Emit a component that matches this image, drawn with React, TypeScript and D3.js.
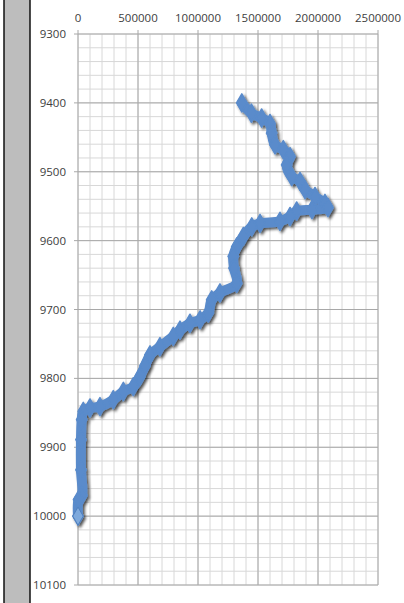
import React from "react";
import * as d3 from "d3";

const xTicks = [0, 500000, 1000000, 1500000, 2000000, 2500000];
const yTicks = [9300, 9400, 9500, 9600, 9700, 9800, 9900, 10000, 10100];

const values = [
  1365000, 1445000, 1530000, 1600000, 1614000, 1642000, 1711000, 1767000, 1739000, 1781000,
  1850000, 1892000, 1975000, 2058000, 2083000, 1950000, 1822000, 1767000, 1683000, 1517000,
  1448000, 1378000, 1323000, 1294000, 1300000, 1323000, 1183000, 1114000, 1086000, 1017000,
  933000, 850000, 794000, 683000, 600000, 558000, 517000, 461000, 378000, 294000,
  183000, 100000, 44000, 31000, 25000, 25000, 33000, 5000, 0,
];
const depths = [
  9400, 9415, 9422, 9430, 9444, 9461, 9468, 9478, 9490, 9507,
  9514, 9526, 9536, 9546, 9552, 9555, 9557, 9565, 9572, 9575,
  9580, 9594, 9609, 9623, 9640, 9662, 9676, 9686, 9705, 9715,
  9720, 9730, 9739, 9754, 9766, 9782, 9797, 9812, 9819, 9831,
  9841, 9843, 9848, 9860, 9889, 9933, 9970, 9976, 10000,
];

const W = 404;
const H = 603;
const left = 78;
const right = 378;
const top = 34;
const bottom = 585;

export default function App() {
  const x = d3.scaleLinear().domain([0, 2500000]).range([left, right]);
  const y = d3.scaleLinear().domain([9300, 10100]).range([top, bottom]);

  const xMinor = d3.range(0, 2500001, 100000);
  const yMinor = d3.range(9300, 10101, 20);

  const pts: [number, number][] = values.map((v, i) => [x(v), y(depths[i])]);
  const line = d3.line().curve(d3.curveCatmullRom.alpha(0.5))(pts) || "";
  const sym = d3.symbol().type(d3.symbolDiamond).size(95)() || "";

  const font = "'Open Sans', 'Liberation Sans', sans-serif";

  return (
    <svg
      width={W}
      height={H}
      style={{ position: "absolute", left: 0, top: 0, background: "#fff" }}
    >
      <defs>
        <filter id="sh" x="-20%" y="-20%" width="140%" height="140%">
          <feGaussianBlur in="SourceAlpha" stdDeviation="1.5" result="b" />
          <feOffset in="b" dx="1.5" dy="2" result="o" />
          <feComponentTransfer in="o" result="s">
            <feFuncA type="linear" slope="0.7" />
          </feComponentTransfer>
          <feMerge>
            <feMergeNode in="s" />
            <feMergeNode in="SourceGraphic" />
          </feMerge>
        </filter>
      </defs>
      <rect x={0} y={0} width={W} height={H} fill="#fff" />
      {/* left gray bar */}
      <rect x={4} y={0} width={26} height={H} fill="#bdbdbd" />
      <line x1={4} x2={4} y1={0} y2={H} stroke="#111" strokeWidth={1.5} />
      <line x1={30} x2={30} y1={0} y2={H} stroke="#111" strokeWidth={1.5} />

      {/* minor grid */}
      {xMinor.map((v) => (
        <line key={"xm" + v} x1={x(v)} x2={x(v)} y1={top} y2={bottom} stroke="#d8d8d8" strokeWidth={1} />
      ))}
      {yMinor.map((v) => (
        <line key={"ym" + v} x1={left} x2={right} y1={y(v)} y2={y(v)} stroke="#d8d8d8" strokeWidth={1} />
      ))}
      {/* major grid */}
      {xTicks.map((v) => (
        <line key={"xM" + v} x1={x(v)} x2={x(v)} y1={top - 4} y2={bottom} stroke="#a8a8a8" strokeWidth={1} />
      ))}
      {yTicks.map((v) => (
        <line key={"yM" + v} x1={left - 4} x2={right} y1={y(v)} y2={y(v)} stroke="#a8a8a8" strokeWidth={1} />
      ))}

      {/* labels */}
      {xTicks.map((v) => (
        <text key={"xl" + v} x={x(v)} y={22} textAnchor="middle" fontFamily={font} fontSize={11.5} fill="#404040">
          {v}
        </text>
      ))}
      {yTicks.map((v) => (
        <text key={"yl" + v} x={66} y={y(v) + 4} textAnchor="end" fontFamily={font} fontSize={11.5} fill="#404040">
          {v}
        </text>
      ))}

      {/* series */}
      <g filter="url(#sh)">
        <path d={line} fill="none" stroke="#5a8bcb" strokeWidth={10} strokeLinejoin="round" strokeLinecap="round" />
        {pts.map((p, i) => (
          <path key={"m" + i} d={sym} transform={`translate(${p[0]},${p[1]})`} fill="#5a8bcb" stroke="#5a8bcb" strokeWidth={1.5} strokeLinejoin="round" />
        ))}
      </g>
      <path d={sym} transform={`translate(${pts[pts.length - 1][0]},${pts[pts.length - 1][1]})`} fill="#7ea9dc" stroke="#4f7fbe" strokeWidth={1} />
    </svg>
  );
}
